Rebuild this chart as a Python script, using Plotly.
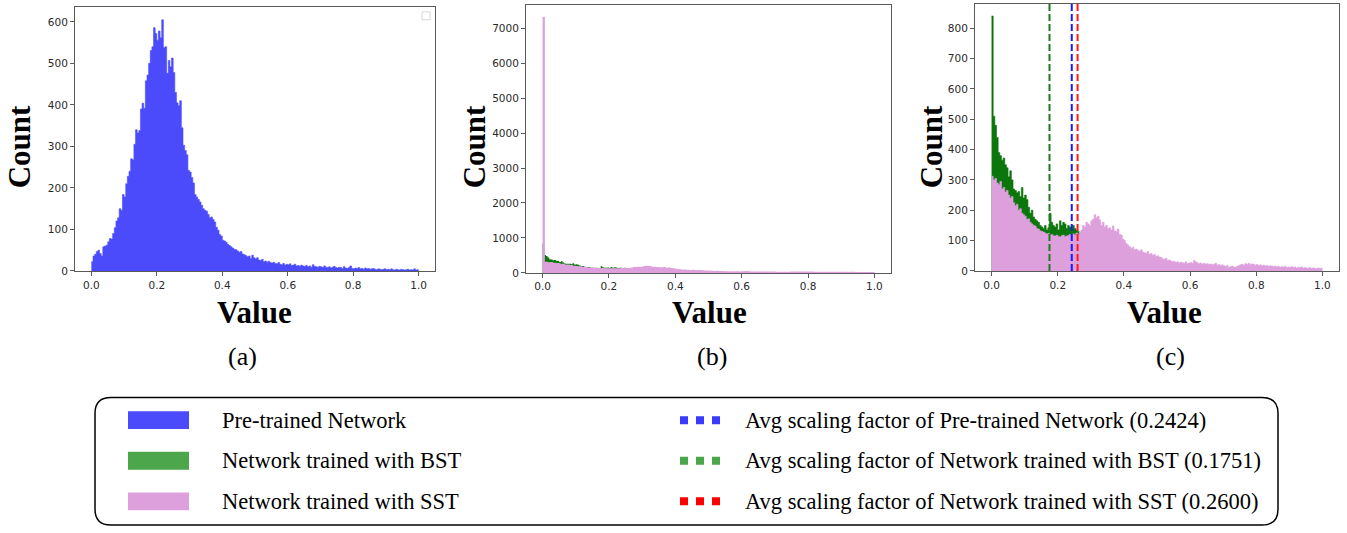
import plotly.graph_objects as go

W, H = 1347, 533
BIN_WIDTH = 0.005

# ---- data (counts per bin of width 0.005, from 0.0 to 1.0) ----
pretrained_counts = [
    22, 36, 40, 47, 50, 42, 36, 58, 60, 62,
    70, 78, 77, 90, 104, 120, 128, 150, 146, 184,
    178, 210, 228, 240, 270, 268, 305, 340, 332, 338,
    390, 404, 392, 458, 472, 500, 531, 540, 586, 572,
    556, 578, 562, 605, 538, 540, 476, 507, 492, 513,
    478, 430, 405, 398, 410, 345, 303, 290, 280, 242,
    238, 225, 212, 184, 178, 172, 166, 158, 150, 146,
    144, 136, 128, 130, 124, 118, 105, 98, 88, 84,
    74, 72, 69, 64, 61, 58, 55, 52, 51, 48,
    45, 47, 41, 39, 37, 34, 36, 30, 38, 32,
    29, 32, 26, 25, 28, 22, 24, 21, 23, 20,
    19, 21, 18, 17, 20, 16, 15, 18, 14, 16,
    15, 17, 13, 14, 16, 12, 13, 11, 14, 12,
    11, 13, 10, 12, 9, 15, 11, 10, 9, 11,
    10, 8, 12, 9, 8, 10, 7, 9, 11, 8,
    7, 9, 8, 6, 10, 7, 6, 8, 12, 6,
    5, 7, 6, 8, 5, 6, 4, 7, 5, 6,
    4, 5, 6, 4, 3, 5, 4, 3, 4, 5,
    3, 4, 3, 5, 3, 2, 4, 3, 2, 4,
    3, 2, 3, 4, 2, 3, 2, 5, 2, 3,
]

bst_counts = [
    840, 510, 480, 440, 390, 380, 365, 372, 350, 340,
    310, 330, 300, 270, 265, 258, 262, 245, 275, 240,
    250, 235, 210, 190, 200, 178, 170, 165, 160, 150,
    145, 140, 150, 135, 142, 190, 160, 150, 145, 155,
    135, 165, 150, 160, 155, 140, 150, 145, 140, 150,
    140, 135, 130, 125, 120,
]

sst_counts = [
    312, 300, 305, 290, 285, 295, 270, 275, 260, 265,
    250, 240, 245, 225, 215, 220, 200, 205, 190, 185,
    180, 170, 172, 160, 155, 150, 148, 140, 138, 132,
    130, 128, 125, 122, 124, 118, 120, 116, 115, 118,
    114, 112, 116, 118, 113, 115, 117, 120, 118, 122,
    118, 125, 120, 128, 135, 150, 145, 160, 155, 150,
    165, 170, 185, 175, 180, 168, 150, 160, 145, 150,
    140, 142, 135, 148, 132, 130, 138, 120, 118, 105,
    100, 90, 85, 80, 75, 78, 70, 72, 68, 65,
    70, 62, 60, 58, 64, 55, 57, 52, 54, 48,
    50, 46, 44, 40, 38, 42, 35, 36, 33, 30,
    32, 28, 30, 26, 29, 27, 25, 30, 24, 26,
    28, 25, 34, 30, 27, 24, 26, 22, 25, 23,
    24, 21, 23, 20, 22, 25, 19, 21, 18, 20,
    17, 15, 18, 12, 14, 16, 13, 11, 15, 17,
    20, 22, 19, 24, 21, 25, 20, 23, 22, 19,
    21, 18, 20, 17, 19, 16, 18, 15, 17, 16,
    14, 16, 13, 15, 12, 14, 13, 15, 11, 13,
    12, 14, 11, 13, 10, 12, 11, 13, 10, 11,
    10, 9, 11, 8, 10, 9, 7, 10, 8, 9,
]
sst_zero_spike_b = 7300  # first bin of SST in panel (b)

avg_labels = ["Pre-trained Network", "Network trained with BST", "Network trained with SST"]
avg_values = [0.2424, 0.1751, 0.2600]

x_ticks = [0.0, 0.2, 0.4, 0.6, 0.8, 1.0]
y_ticks_a = [0, 100, 200, 300, 400, 500, 600]
y_ticks_b = [0, 1000, 2000, 3000, 4000, 5000, 6000, 7000]
y_ticks_c = [0, 100, 200, 300, 400, 500, 600, 700, 800]

# ---- styles ----
BLUE = "#4b4bfc"
GREEN_DARK = "#0b760b"
PINK = "#dda0dd"
LEG_GREEN = "#4ca64c"
SERIF = "Liberation Serif, Times New Roman, serif"


def px(x):
    return x / W


def py(y):
    return 1 - y / H


def step_xy(counts):
    xs = [i * BIN_WIDTH for i in range(len(counts))] + [len(counts) * BIN_WIDTH]
    ys = list(counts) + [counts[-1]]
    return xs, ys


def hist_trace(counts, color, xa, ya, lw=0.6):
    xs, ys = step_xy(counts)
    return go.Scatter(x=xs, y=ys, mode="lines", line=dict(shape="hv", width=lw, color=color),
                      fill="tozeroy", fillcolor=color, xaxis=xa, yaxis=ya,
                      showlegend=False, hoverinfo="skip")


fig = go.Figure()
fig.add_trace(hist_trace(pretrained_counts, BLUE, "x", "y"))
fig.add_trace(hist_trace(bst_counts, GREEN_DARK, "x2", "y2", lw=0))
fig.add_trace(hist_trace([sst_zero_spike_b] + sst_counts[1:], PINK, "x2", "y2", lw=1.2))
fig.add_trace(hist_trace(bst_counts, GREEN_DARK, "x3", "y3"))
fig.add_trace(hist_trace(sst_counts, PINK, "x3", "y3"))

axis_common = dict(showgrid=False, zeroline=False, showline=True, linecolor="#5a5a5a", linewidth=1,
                   mirror=True, ticks="outside", ticklen=4, tickcolor="#5a5a5a",
                   tickfont=dict(family="DejaVu Sans", size=10.5, color="#2a2a2a"))

xr = [-0.05, 1.05]
fig.update_layout(
    width=W, height=H, margin=dict(l=0, r=0, t=0, b=0),
    paper_bgcolor="white", plot_bgcolor="white", showlegend=False,
    xaxis=dict(domain=[px(75), px(435)], range=xr, tickvals=x_ticks, tickformat=".1f", anchor="y", **axis_common),
    yaxis=dict(domain=[py(274), py(7)], range=[0, 636], tickvals=y_ticks_a, anchor="x", **axis_common),
    xaxis2=dict(domain=[px(526), px(891)], range=xr, tickvals=x_ticks, tickformat=".1f", anchor="y2", **axis_common),
    yaxis2=dict(domain=[py(276), py(5)], range=[0, 7665], tickvals=y_ticks_b, anchor="x2", **axis_common),
    xaxis3=dict(domain=[px(975), px(1339)], range=xr, tickvals=x_ticks, tickformat=".1f", anchor="y3", **axis_common),
    yaxis3=dict(domain=[py(274), py(4)], range=[0, 880], tickvals=y_ticks_c, anchor="x3", **axis_common),
)

# average scaling-factor dashed lines in panel (c)
line_colors = ["#1a1aff", "#1f7a1f", "#ff1a1a"]
for val, col in zip(avg_values, line_colors):
    fig.add_shape(type="line", xref="x3", yref="y3 domain", x0=val, x1=val, y0=0, y1=1,
                  line=dict(color=col, width=2, dash="7px,3px"))

# empty matplotlib legend box in panel (a)
fig.add_shape(type="rect", xref="paper", yref="paper", x0=px(422), x1=px(430), y0=py(20), y1=py(12),
              line=dict(color="#d8d8d8", width=1), fillcolor="white")


def ann(x, y, text, size, xanchor="center", angle=0):
    return dict(x=px(x), y=py(y), xref="paper", yref="paper", text=text, textangle=angle,
                xanchor=xanchor, yanchor="middle", showarrow=False,
                font=dict(family=SERIF, size=size, color="black"))


annotations = []
for cx in [19, 474, 931]:
    annotations.append(ann(cx, 149, "<b>Count</b>", 31, angle=-90))
for cx in [254, 709, 1164]:
    annotations.append(ann(cx, 316, "<b>Value</b>", 31))
for cx, sub in [(243, "(a)"), (712, "(b)"), (1170, "(c)")]:
    annotations.append(ann(cx, 361, sub, 26))

# legend box (rounded), defined in pixel coordinates then mapped to paper
BX0, BX1, BY0, BY1, R = 95, 1278, 402, 531, 16
pts = [("M", BX0 + R, BY0), ("L", BX1 - R, BY0), ("Q", BX1, BY0, BX1, BY0 + R),
       ("L", BX1, BY1 - R), ("Q", BX1, BY1, BX1 - R, BY1), ("L", BX0 + R, BY1),
       ("Q", BX0, BY1, BX0, BY1 - R), ("L", BX0, BY0 + R), ("Q", BX0, BY0, BX0 + R, BY0)]
segs = []
for p in pts:
    cmd, coords = p[0], p[1:]
    pairs = [f"{px(coords[i]):.5f},{py(coords[i + 1]):.5f}" for i in range(0, len(coords), 2)]
    segs.append(cmd + " " + " ".join(pairs))
fig.add_shape(type="path", xref="paper", yref="paper", path=" ".join(segs) + " Z",
              line=dict(color="black", width=1.5))

swatch_colors = [BLUE, LEG_GREEN, PINK]
rows_y = [425, 466, 507]
for lab, col, yc in zip(avg_labels, swatch_colors, rows_y):
    fig.add_shape(type="rect", xref="paper", yref="paper", x0=px(128), x1=px(189),
                  y0=py(yc + 9), y1=py(yc - 9), line=dict(width=0), fillcolor=col)
    annotations.append(ann(220, yc, lab, 22.5, xanchor="left"))

dash_colors = ["#3a3aff", LEG_GREEN, "#ff0000"]
for lab, val, col, yc in zip(avg_labels, avg_values, dash_colors, rows_y):
    fig.add_shape(type="line", xref="paper", yref="paper", x0=px(680), x1=px(721), y0=py(yc), y1=py(yc),
                  line=dict(color=col, width=8, dash="8px,8px"))
    annotations.append(ann(743, yc, f"Avg scaling factor of {lab} ({val:.4f})", 22.5, xanchor="left"))

fig.update_layout(annotations=annotations)
fig.write_html("out.html", post_script="document.body.style.margin='0px';",
               config={"displayModeBar": False})
